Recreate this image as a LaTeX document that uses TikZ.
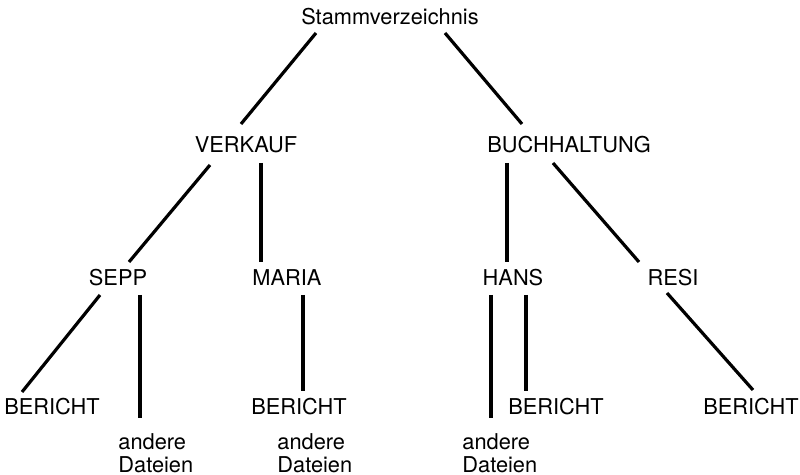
\documentclass[tikz,border=0pt]{standalone}
\usepackage{fontspec}
\setmainfont{TeX Gyre Heros}
\begin{document}
\begin{tikzpicture}[x=0.5pt,y=-0.5pt,
  lbl/.style={inner sep=0pt,font=\fontsize{10.9}{11.5}\selectfont},
  two/.style={lbl,align=left,anchor=north west},
  edge/.style={line width=1.6pt}]
\useasboundingbox (0,0) rectangle (800,475);
% nodes
\node[lbl] (stamm) at (390,17) {Stammverzeichnis};
\node[lbl] (verk) at (246,145) {VERKAUF};
\node[lbl] (buch) at (569,145) {BUCHHALTUNG};
\node[lbl] (sepp) at (118,278) {SEPP};
\node[lbl] (maria) at (287,278) {MARIA};
\node[lbl] (hans) at (513,278) {HANS};
\node[lbl] (resi) at (673,278) {RESI};
\node[lbl] (b1) at (52,407) {BERICHT};
\node[lbl] (b2) at (299,407) {BERICHT};
\node[lbl] (b3) at (556,407) {BERICHT};
\node[lbl] (b4) at (751,407) {BERICHT};
\node[two] (a1) at (118,433) {andere\\Dateien};
\node[two] (a2) at (277,433) {andere\\Dateien};
\node[two] (a3) at (462,433) {andere\\Dateien};
% connectors
\draw[edge] ([shift={(-74,16)}]stamm.center) -- ([shift={(-5,-21)}]verk.center);
\draw[edge] ([shift={(55,16)}]stamm.center) -- ([shift={(-47,-21)}]buch.center);
\draw[edge] ([shift={(-36,20)}]verk.center) -- ([shift={(11,-16)}]sepp.center);
\draw[edge] ([shift={(15,18)}]verk.center) -- ([shift={(-26,-16)}]maria.center);
\draw[edge] ([shift={(-62,18)}]buch.center) -- ([shift={(-6,-16)}]hans.center);
\draw[edge] ([shift={(-16,18)}]buch.center) -- ([shift={(-34,-16)}]resi.center);
\draw[edge] ([shift={(-18,17)}]sepp.center) -- ([shift={(-30,-15)}]b1.center);
\draw[edge] ([shift={(22,17)}]sepp.center) -- ([shift={(22,-15)}]a1.north west);
\draw[edge] ([shift={(16,17)}]maria.center) -- ([shift={(4,-16)}]b2.center);
\draw[edge] ([shift={(-22,17)}]hans.center) -- ([shift={(29,-15)}]a3.north west);
\draw[edge] ([shift={(13,17)}]hans.center) -- ([shift={(-30,-16)}]b3.center);
\draw[edge] ([shift={(-6,15)}]resi.center) -- ([shift={(2,-17)}]b4.center);
\end{tikzpicture}
\end{document}
